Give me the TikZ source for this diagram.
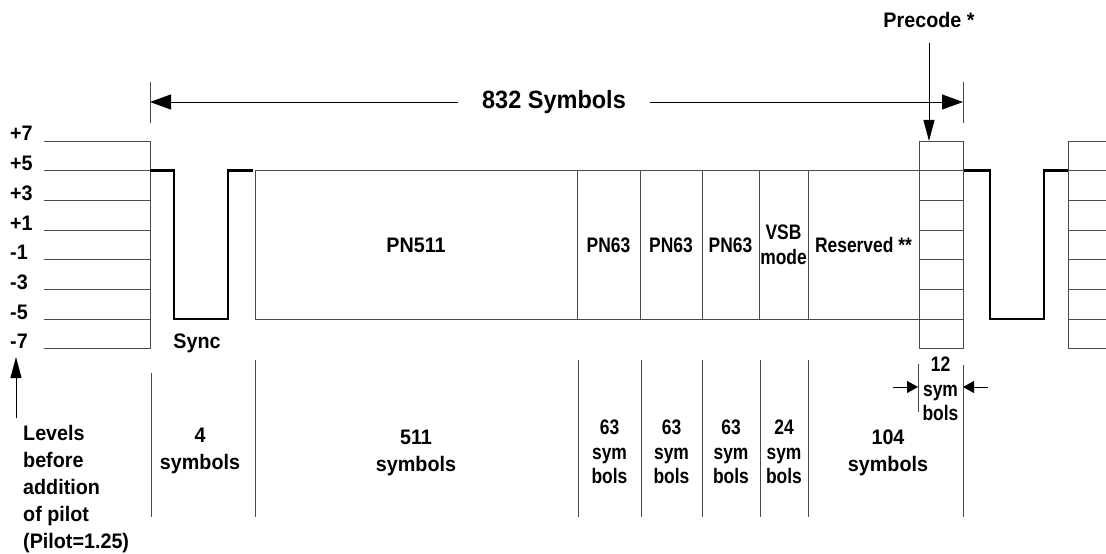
\documentclass[tikz,border=0pt]{standalone}
\usepackage{fontspec}
\usepackage{tikz}
\usetikzlibrary{arrows.meta}
\newfontfamily\lblfont{Liberation Sans}[FakeStretch=0.94]
\newfontfamily\narrowfont{Liberation Sans}[FakeStretch=0.83]
\definecolor{rule}{HTML}{4A4A4A}

\begin{document}
\begin{tikzpicture}[x=1bp,y=-1bp,levelline/.style={draw=rule,line width=0.9bp},wave/.style={draw=black,line width=2.4bp,line join=miter},lbl/.style={font={\lblfont\bfseries\fontsize{21bp}{27bp}\selectfont},inner sep=0pt},biglbl/.style={font={\lblfont\bfseries\fontsize{25bp}{30bp}\selectfont},inner ysep=0pt,inner xsep=24bp},nlbl/.style={font={\narrowfont\bfseries\fontsize{21bp}{24.5bp}\selectfont},inner sep=0pt,align=center},cell/.style={draw=rule,line width=0.9bp,minimum height=148.5bp,inner sep=0pt,align=center,font={\narrowfont\bfseries\fontsize{21bp}{25bp}\selectfont}},dimarrow/.style={-{Triangle[length=21bp,width=15bp]},draw=black,line width=0.9bp},pointer/.style={-{Triangle[length=21bp,width=11bp]},draw=black,line width=0.9bp},smallarrow/.style={-{Triangle[length=11bp,width=12bp]},draw=black,line width=0.9bp}]
\useasboundingbox (0,0) rectangle (1106,554);
\foreach \lv [count=\i from 0] in {+7,+5,+3,+1,-1,-3,-5,-7} {
  \node[lbl,anchor=base west] (lv\i) at (10,{141+29.7*\i}) {\lv};
  \draw[levelline] (44,{141+29.7*\i}) -- (150,{141+29.7*\i});
  \draw[levelline] (1068,{141+29.7*\i}) -- (1106,{141+29.7*\i});
}
\draw[levelline] (150,141) -- (150,348.9);
\draw[levelline] (1068,141) -- (1068,348.9);
\draw[wave] (150,170.7) -- (174,170.7) -- (174,319.2) -- (228,319.2) -- (228,170.7) -- (253,170.7);
\draw[wave] (963,170.7) -- (990,170.7) -- (990,319.2) -- (1044,319.2) -- (1044,170.7) -- (1068,170.7);
\node[lbl,anchor=base] (sync) at (197,349) {Sync};
\node[cell,minimum width=322bp,font={\lblfont\bfseries\fontsize{21bp}{25bp}\selectfont}] (pn511) at (416,245) {PN511};
\node[cell,minimum width=63bp] (pna) at (608.5,245) {PN63};
\node[cell,minimum width=62bp] (pnb) at (671,245) {PN63};
\node[cell,minimum width=57bp] (pnc) at (730.5,245) {PN63};
\node[cell,minimum width=49bp] (vsb) at (783.5,245) {VSB\\mode};
\node[cell,minimum width=111bp] (resv) at (863.5,245) {Reserved **};
\draw[line width=1.8bp] (resv.north east) -- (resv.south east);
\node[draw=rule,line width=0.9bp,minimum width=44bp,minimum height=207.9bp,inner sep=0pt] (pcbox) at (941,244.95) {};
\foreach \i in {1,...,6} \draw[levelline] (919,{141+29.7*\i}) -- (963,{141+29.7*\i});
\node[biglbl] (sym832) at (554,102) {832 Symbols};
\coordinate (d832l) at (150,102);
\coordinate (d832r) at (963,102);
\draw[levelline] (150,82) -- (150,123);
\draw[levelline] (963,82) -- (963,123);
\draw[dimarrow] (sym832) -- (d832l);
\draw[dimarrow] (sym832) -- (d832r);
\node[lbl] (precode) at (929,20) {Precode *};
\coordinate (pctop) at (929,141);
\draw[pointer,shorten <=15bp] (precode) -- (pctop);
\foreach \x in {255,578,641,702,760,808} \draw[levelline] (\x,360) -- (\x,517);
\draw[levelline] (151,373) -- (151,517);
\draw[levelline] (963,365) -- (963,517);
\draw[levelline] (918,364) -- (918,412);
\coordinate (d12l) at (918,387);
\coordinate (d12r) at (963,387);
\coordinate (d12la) at (893,387);
\coordinate (d12ra) at (988,387);
\draw[smallarrow] (d12la) -- (d12l);
\draw[smallarrow] (d12ra) -- (d12r);
\coordinate (lvfoot) at (16,418);
\coordinate (lvtip) at (16,357);
\draw[pointer] (lvfoot) -- (lvtip);
\node[lbl,align=center,anchor=north] (c4) at (200,428) {4\\symbols};
\node[lbl,align=center,anchor=north] (c511) at (416,430) {511\\symbols};
\node[nlbl,anchor=north] (c63a) at (609.5,420) {63\\sym\\bols};
\node[nlbl,anchor=north] (c63b) at (671.5,420) {63\\sym\\bols};
\node[nlbl,anchor=north] (c63c) at (731,420) {63\\sym\\bols};
\node[nlbl,anchor=north] (c24) at (784,420) {24\\sym\\bols};
\node[lbl,align=center,anchor=north] (c104) at (888,430) {104\\symbols};
\node[nlbl,anchor=north] (c12) at (940.5,357) {12\\sym\\bols};
\node[lbl,align=left,anchor=north west] (levels) at (23,425) {Levels\\before\\addition\\of pilot\\(Pilot=1.25)};
\end{tikzpicture}
\end{document}
